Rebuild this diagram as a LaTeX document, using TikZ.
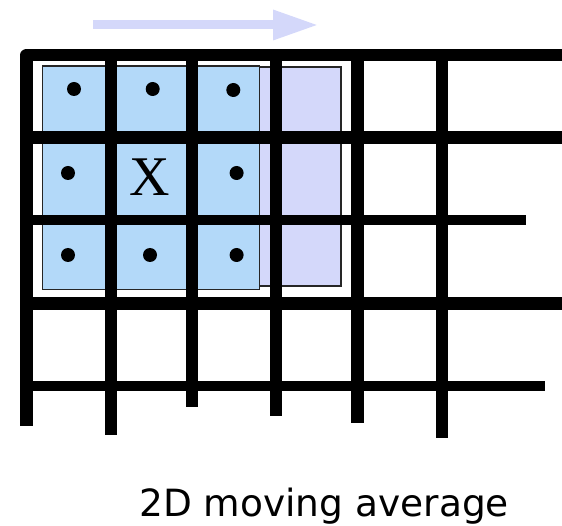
\documentclass[tikz,border=0pt]{standalone}
\usepackage{fontspec}
\newfontfamily\capfont{DejaVu Sans}
\newfontfamily\xfont{Liberation Serif}
\definecolor{winblue}{RGB}{179,217,249}
\definecolor{winlav}{RGB}{212,216,250}
\begin{document}
\begin{tikzpicture}[x=1pt,y=-1pt,
  winbox/.style={draw=black!85, line width=1.3pt},
  gridline/.style={draw=black, line cap=butt},
  dotnode/.style={circle, fill=black, minimum size=14pt, inner sep=0pt},
  xlabel/.style={inner sep=0pt, font=\xfont\fontsize{56}{60}\selectfont},
  caption/.style={anchor=base west, inner sep=0pt, font=\capfont\fontsize{37.5}{42}\selectfont}]
\useasboundingbox (0,0) rectangle (562,526);
% direction arrow
\fill[winlav] (92.7,20) rectangle (273,29);
\fill[winlav] (273,9.5) -- (316.7,25) -- (273,40.5) -- cycle;
% shifted window (lavender) and current window (blue)
\filldraw[winbox, fill=winlav] (125,67) rectangle (341,286);
\filldraw[winbox, fill=winblue] (42.7,66) rectangle (259.3,289.3);
% grid: outer corner
\draw[gridline, line width=12.5pt, line join=round] (26.7,425.7) -- (26.7,55) -- (562,55);
% horizontal lines
\draw[gridline, line width=12.5pt] (26.7,137.5) -- (562,137.5);
\draw[gridline, line width=10pt] (26.7,220.5) -- (526,220.5);
\draw[gridline, line width=13pt] (26.7,304) -- (562,304);
\draw[gridline, line width=10pt] (26.7,386) -- (545,386);
% vertical lines
\draw[gridline, line width=12.5pt] (111,55) -- (111,435);
\draw[gridline, line width=12pt] (191.7,55) -- (191.7,406.7);
\draw[gridline, line width=12.5pt] (276,55) -- (276,416);
\draw[gridline, line width=12.5pt] (357.5,55) -- (357.5,422.7);
\draw[gridline, line width=12.5pt] (442,55) -- (442,437.7);
% dots
\node[dotnode] (d11) at (74,89) {};
\node[dotnode] (d12) at (152.7,89) {};
\node[dotnode] (d13) at (233.3,90) {};
\node[dotnode] (d21) at (68,173) {};
\node[xlabel] (xc) at (150,177) {X};
\node[dotnode] (d23) at (236.6,173) {};
\node[dotnode] (d31) at (68,255) {};
\node[dotnode] (d32) at (150,255) {};
\node[dotnode] (d33) at (236.6,255) {};
% caption
\node[caption] (cap) at (139,516.5) {2D moving average};
\end{tikzpicture}
\end{document}
